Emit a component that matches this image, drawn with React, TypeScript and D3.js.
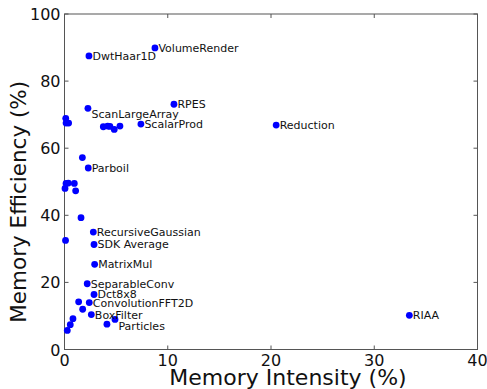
import React, { useEffect, useRef } from 'react';
import * as d3 from 'd3';

// benchmark names ('' = unlabeled point)
const names = [
  'DwtHaar1D', 'VolumeRender', 'ScanLargeArray', 'RPES', 'ScalarProd', 'Reduction',
  '', '', '', '', '',
  '', '', '',
  '', 'Parboil',
  '', '', '', '', '',
  '', 'RecursiveGaussian', '', 'SDK Average', 'MatrixMul', 'SeparableConv', 'Dct8x8',
  'ConvolutionFFT2D', '', '', 'BoxFilter', 'Particles', '', '', '', '', 'RIAA',
];
const intensity = [
  2.37, 8.76, 2.27, 10.6, 7.4, 20.5,
  3.76, 4.18, 4.4, 4.82, 5.37,
  0.12, 0.15, 0.4,
  1.73, 2.3,
  0.15, 0.37, 0.95, 1.08, 0.05,
  1.6, 2.79, 0.1, 2.86, 2.92, 2.2, 2.86,
  2.4, 1.37, 1.76, 2.6, 4.89, 4.11, 0.82, 0.56, 0.27, 33.4,
];
const efficiency = [
  87.5, 89.9, 71.9, 73.1, 67.2, 66.9,
  66.4, 66.6, 66.5, 65.6, 66.6,
  68.9, 67.5, 67.5,
  57.2, 54.1,
  49.5, 49.6, 49.5, 47.3, 48.0,
  39.3, 35.0, 32.5, 31.3, 25.4, 19.6, 16.4,
  14.0, 14.2, 12.0, 10.4, 8.96, 7.55, 9.2, 7.4, 5.7, 10.2,
];
const xTicks = [0, 10, 20, 30, 40];
const yTicks = [0, 20, 40, 60, 80, 100];

// labels that sit below their point instead of beside it
const labelShift: Record<string, number> = { ScanLargeArray: 6, Particles: 7 };

const W = 487;
const H = 389;
const margin = { top: 14, right: 9.5, bottom: 39.5, left: 64.5 };
const font = '"DejaVu Sans", sans-serif';

const App = () => {
  const svgRef = useRef<SVGSVGElement>(null);

  useEffect(() => {
    if (!svgRef.current) return;
    const svg = d3.select(svgRef.current);
    svg.selectAll('*').remove();

    const x = d3.scaleLinear().domain([0, 40]).range([margin.left, W - margin.right]);
    const y = d3.scaleLinear().domain([0, 100]).range([H - margin.bottom, margin.top]);

    const data = names.map((n, i) => ({ n, x: intensity[i], y: efficiency[i] }));

    // frame + inward ticks on all four sides
    const frame = '#555';
    svg.append('rect')
      .attr('x', x(0)).attr('y', y(100))
      .attr('width', x(40) - x(0)).attr('height', y(0) - y(100))
      .attr('fill', 'none').attr('stroke', frame).attr('stroke-width', 1);

    const tl = 4;
    const ticks = svg.append('g').attr('stroke', frame).attr('stroke-width', 1);
    xTicks.forEach(t => {
      ticks.append('line').attr('x1', x(t)).attr('x2', x(t)).attr('y1', y(0)).attr('y2', y(0) - tl);
      ticks.append('line').attr('x1', x(t)).attr('x2', x(t)).attr('y1', y(100)).attr('y2', y(100) + tl);
    });
    yTicks.forEach(t => {
      ticks.append('line').attr('x1', x(0)).attr('x2', x(0) + tl).attr('y1', y(t)).attr('y2', y(t));
      ticks.append('line').attr('x1', x(40)).attr('x2', x(40) - tl).attr('y1', y(t)).attr('y2', y(t));
    });

    svg.append('g').selectAll('text').data(xTicks).enter().append('text')
      .attr('x', d => x(d)).attr('y', y(0) + 16.5)
      .attr('text-anchor', 'middle')
      .attr('font-family', font).attr('font-size', 16).attr('fill', '#111')
      .text(d => d);

    svg.append('g').selectAll('text').data(yTicks).enter().append('text')
      .attr('x', x(0) - 4).attr('y', d => y(d) + 6)
      .attr('text-anchor', 'end')
      .attr('font-family', font).attr('font-size', 16).attr('fill', '#111')
      .text(d => d);

    // points
    svg.append('g').selectAll('circle').data(data).enter().append('circle')
      .attr('cx', d => x(d.x)).attr('cy', d => y(d.y))
      .attr('r', 3.4).attr('fill', '#0000ff');

    // point labels
    svg.append('g').selectAll('text').data(data.filter(d => d.n)).enter().append('text')
      .attr('x', d => x(d.x) + 3.5)
      .attr('y', d => y(d.y) + 4 + (labelShift[d.n] || 0))
      .attr('font-family', font).attr('font-size', 11).attr('fill', '#111')
      .text(d => d.n);

    // axis titles
    svg.append('text')
      .attr('x', (x(0) + x(40)) / 2 + 17).attr('y', H - 4)
      .attr('text-anchor', 'middle')
      .attr('font-family', font).attr('font-size', 22).attr('fill', '#111')
      .text('Memory Intensity (%)');

    svg.append('text')
      .attr('transform', `translate(26,${(y(0) + y(100)) / 2 + 20}) rotate(-90)`)
      .attr('text-anchor', 'middle')
      .attr('font-family', font).attr('font-size', 21.5).attr('fill', '#111')
      .text('Memory Efficiency (%)');
  }, []);

  return (
    <svg
      ref={svgRef}
      width={W}
      height={H}
      style={{ position: 'absolute', left: 0, top: 0, background: '#fff' }}
    />
  );
};

export default App;
